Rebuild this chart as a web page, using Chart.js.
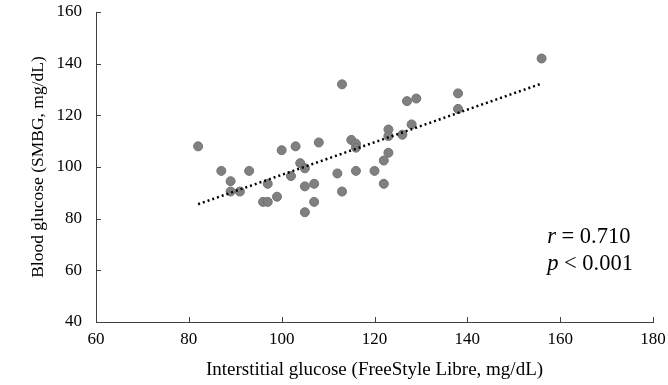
<!DOCTYPE html>
<html>
<head>
<meta charset="utf-8">
<script src="https://cdn.jsdelivr.net/npm/chart.js@4.4.1/dist/chart.umd.min.js"></script>
<style>
  html, body { margin: 0; padding: 0; background: #fff; }
  #wrap { width: 668px; height: 385px; position: relative; }
</style>
</head>
<body>
<div id="wrap"><canvas id="c" width="668" height="385"></canvas></div>
<script>
// Interstitial glucose (x) and blood glucose (y), mg/dL
const interstitial = [82, 87, 89, 89, 91, 93, 96, 97, 97, 99, 100, 103, 102, 104, 105, 105, 105, 107, 107, 108, 112, 113, 113, 115, 116, 116, 116, 120, 122, 122, 123, 123, 123, 126, 127, 129, 128, 138, 138, 156];
const bloodGlucose = [108, 98.5, 94.5, 90.5, 90.5, 98.5, 86.5, 86.5, 93.5, 88.5, 106.5, 108, 96.5, 101.5, 99.5, 92.5, 82.5, 93.5, 86.5, 109.5, 97.5, 90.5, 132, 110.5, 109, 107.5, 98.5, 98.5, 102.5, 93.5, 114.5, 112, 105.5, 112.5, 125.5, 126.5, 116.5, 128.5, 122.5, 142];
// Regression (trend) line endpoints
const trendX = [82, 156];
const trendY = [85.6, 132.3];
const xTicks = [60, 80, 100, 120, 140, 160, 180];
const yTicks = [40, 60, 80, 100, 120, 140, 160];
const statLines = ["r = 0.710", "p < 0.001"];

const FONT = "'Liberation Serif', 'Times New Roman', serif";

const scatterData = interstitial.map((x, i) => ({ x: x, y: bloodGlucose[i] }));
const trendData = trendX.map((x, i) => ({ x: x, y: trendY[i] }));

const insideTicks = {
  id: 'insideTicks',
  afterDraw(chart) {
    const ctx = chart.ctx;
    const xs = chart.scales.x, ys = chart.scales.y;
    const a = chart.chartArea;
    ctx.save();
    ctx.strokeStyle = '#404040';
    ctx.lineWidth = 1;
    ctx.beginPath();
    xTicks.forEach(v => {
      const px = Math.round(xs.getPixelForValue(v)) + 0.5;
      ctx.moveTo(px, a.bottom);
      ctx.lineTo(px, a.bottom - 5);
    });
    yTicks.forEach(v => {
      const py = Math.round(ys.getPixelForValue(v)) + 0.5;
      ctx.moveTo(a.left, py);
      ctx.lineTo(a.left + 5, py);
    });
    ctx.stroke();
    // statistics annotation, anchored to data coordinates
    ctx.fillStyle = '#000';
    ctx.textBaseline = 'middle';
    ctx.textAlign = 'left';
    const tx = xs.getPixelForValue(157.2);
    const ty1 = ys.getPixelForValue(73);
    const ty2 = ys.getPixelForValue(62.5);
    [ty1, ty2].forEach((ty, i) => {
      const parts = statLines[i].split(' ');
      ctx.font = 'italic 22.5px ' + FONT;
      ctx.fillText(parts[0], tx, ty);
      const w = ctx.measureText(parts[0]).width;
      ctx.font = '22.5px ' + FONT;
      ctx.fillText(' ' + parts.slice(1).join(' '), tx + w, ty);
    });
    ctx.restore();
  }
};

new Chart(document.getElementById('c'), {
  type: 'scatter',
  data: {
    datasets: [
      {
        label: 'Measurements',
        data: scatterData,
        backgroundColor: '#808080',
        borderColor: '#727272',
        borderWidth: 1,
        pointRadius: 4.5,
        pointHoverRadius: 4.5,
        order: 2
      },
      {
        label: 'Trend',
        type: 'line',
        data: trendData,
        borderColor: '#000',
        borderWidth: 2.5,
        borderDash: [2, 3],
        borderCapStyle: 'butt',
        pointRadius: 0,
        fill: false,
        order: 1
      }
    ]
  },
  options: {
    responsive: false,
    animation: false,
    devicePixelRatio: 1,
    layout: { padding: { top: 12, right: 15, left: 0, bottom: 0 } },
    plugins: { legend: { display: false }, tooltip: { enabled: false } },
    scales: {
      x: {
        type: 'linear',
        min: 60, max: 180,
        afterBuildTicks: s => { s.ticks = xTicks.map(v => ({ value: v })); },
        afterFit: s => { s.height = 63; s.paddingLeft = 0; s.paddingRight = 0; },
        grid: { display: false, drawTicks: false },
        border: { display: true, color: '#404040', width: 1 },
        ticks: { color: '#000', font: { family: FONT, size: 17 }, padding: 7, maxRotation: 0 },
        title: {
          display: true,
          text: 'Interstitial glucose (FreeStyle Libre, mg/dL)',
          color: '#000',
          font: { family: FONT, size: 19 },
          padding: { top: 0, bottom: 4 }
        }
      },
      y: {
        type: 'linear',
        min: 40, max: 160,
        afterBuildTicks: s => { s.ticks = yTicks.map(v => ({ value: v })); },
        afterFit: s => { s.width = 96; s.paddingTop = 0; s.paddingBottom = 0; },
        grid: { display: false, drawTicks: false },
        border: { display: true, color: '#404040', width: 1 },
        ticks: { color: '#000', font: { family: FONT, size: 17 }, padding: 14 },
        title: {
          display: true,
          text: 'Blood glucose (SMBG, mg/dL)',
          color: '#000',
          font: { family: FONT, size: 17.5 },
          padding: { top: 28, bottom: 0 }
        }
      }
    }
  },
  plugins: [insideTicks]
});
</script>
</body>
</html>
